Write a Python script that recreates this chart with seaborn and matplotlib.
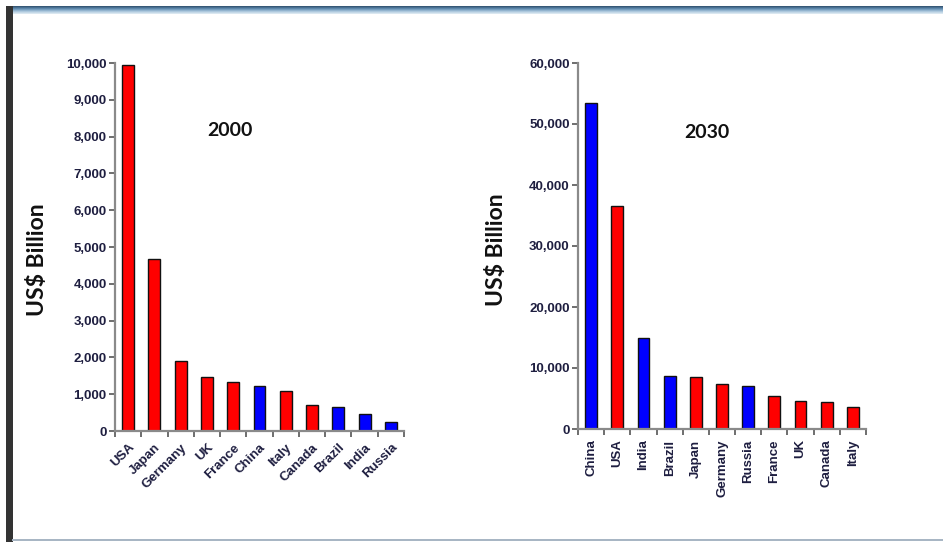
import numpy as np
import pandas as pd
import matplotlib
matplotlib.use("Agg")
import matplotlib.pyplot as plt
from matplotlib.patches import Rectangle
from matplotlib.ticker import FuncFormatter, FixedLocator
import seaborn as sns

# GDP in US$ billion
countries_2000 = ["USA", "Japan", "Germany", "UK", "France", "China",
                  "Italy", "Canada", "Brazil", "India", "Russia"]
gdp_2000 = [9950, 4680, 1900, 1480, 1330, 1220, 1100, 720, 640, 470, 250]
group_2000 = ["G6", "G6", "G6", "G6", "G6", "BRIC",
              "G6", "G6", "BRIC", "BRIC", "BRIC"]

countries_2030 = ["China", "USA", "India", "Brazil", "Japan", "Germany",
                  "Russia", "France", "UK", "Canada", "Italy"]
gdp_2030 = [53400, 36600, 14900, 8700, 8500, 7400,
            7000, 5400, 4600, 4400, 3600]
group_2030 = ["BRIC", "G6", "BRIC", "BRIC", "G6", "G6",
              "BRIC", "G6", "G6", "G6", "G6"]

palette = {"G6": "#ff0000", "BRIC": "#0000ff"}

sns.set_style("white")
plt.rcParams["font.family"] = ["Liberation Sans", "DejaVu Sans"]

fig = plt.figure(figsize=(9.43, 5.42), dpi=100)
W, H = 943, 542


def px_axes(x0, y0, x1, y1, **kw):
    return fig.add_axes([x0 / W, 1 - y1 / H, (x1 - x0) / W, (y1 - y0) / H], **kw)


# page frame: dark left edge, shaded top band, thin bottom rule
fig.patches.append(Rectangle((6 / W, 0), 6.5 / W, 1 - 6 / H, transform=fig.transFigure,
                             facecolor="#333333", edgecolor="none", zorder=5))
band = px_axes(12, 6, W, 14)
grad = np.linspace(0, 1, 50).reshape(-1, 1)
band.imshow(grad, aspect="auto", cmap=matplotlib.colors.LinearSegmentedColormap.from_list(
    "band", ["#2f4f6c", "#5f8bb0", "#a9c6dc", "#e4eef5"]), extent=[0, 1, 0, 1])
band.set_axis_off()
fig.patches.append(Rectangle((12 / W, 1 - 541 / H), 1, 2.5 / H, transform=fig.transFigure,
                             facecolor="#a8b6c4", edgecolor="none", zorder=5))

tick_color = "#1e1e40"
spine_color = "#8a8a8a"
label_size = 9.5


def draw(ax, cats, vals, groups, ymax, step, title, title_xy, rot):
    df = pd.DataFrame({"country": cats, "gdp": vals, "group": groups})
    sns.barplot(data=df, x="country", y="gdp", hue="group", order=cats,
                palette=palette, dodge=False, width=0.45, ax=ax, saturation=1,
                edgecolor="#111111", linewidth=1.0, legend=False)
    ax.set_xlim(-0.5, len(cats) - 0.5)
    ax.set_ylim(0, ymax)
    ax.set_yticks(np.arange(0, ymax + 1, step))
    ax.yaxis.set_major_formatter(FuncFormatter(lambda v, p: f"{int(v):,}"))
    for s in ["top", "right"]:
        ax.spines[s].set_visible(False)
    for s in ["left", "bottom"]:
        ax.spines[s].set_color(spine_color)
        ax.spines[s].set_linewidth(1.6)
    ax.tick_params(axis="y", which="major", left=True, direction="out", length=4,
                   width=1.2, color="#555555", labelsize=label_size,
                   labelcolor=tick_color, pad=2)
    for lab in ax.get_yticklabels():
        lab.set_fontweight("bold")
    # category ticks sit between bars
    ax.xaxis.set_minor_locator(FixedLocator(np.arange(-0.5, len(cats), 1.0)))
    ax.tick_params(axis="x", which="minor", bottom=True, direction="out", length=4,
                   width=1.2, color="#555555")
    ax.tick_params(axis="x", which="major", bottom=False, labelsize=label_size,
                   labelcolor=tick_color, pad=4)
    ax.set_xticks(range(len(cats)))
    if rot == 45:
        ax.set_xticklabels(cats, rotation=45, ha="right", rotation_mode="anchor",
                           fontweight="bold")
    else:
        ax.set_xticklabels(cats, rotation=90, ha="center", va="top", fontweight="bold")
    ax.set_xlabel("")
    ax.set_ylabel("")
    ax.grid(False)
    fig.text(title_xy[0] / W, 1 - title_xy[1] / H, title, ha="center", va="center",
             fontsize=14, fontweight="bold", family="Lato", color="#111111")


ax1 = px_axes(115, 63, 404, 431)
draw(ax1, countries_2000, gdp_2000, group_2000, 10000, 1000, "2000", (230, 131), 45)
ax2 = px_axes(578, 63, 866, 429)
draw(ax2, countries_2030, gdp_2030, group_2030, 60000, 10000, "2030", (707, 133), 90)

for x, y in [(38, 260), (497, 250)]:
    fig.text(x / W, 1 - y / H, "US$ Billion", rotation=90, ha="center", va="center",
             fontsize=16.5, fontweight="bold", family="Lato", color="#111111")

fig.savefig("out.png", dpi=100)
